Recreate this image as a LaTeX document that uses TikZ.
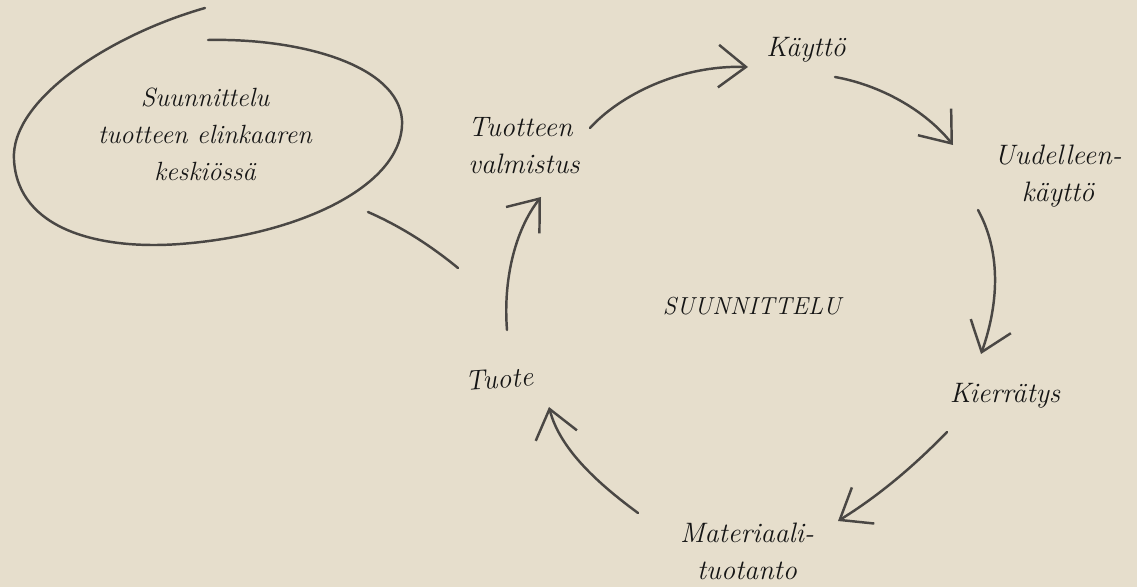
\documentclass[tikz,border=0pt]{standalone}
\usepackage{tikz}
\usetikzlibrary{arrows.meta,positioning}

\definecolor{paper}{HTML}{E6DECC}
\definecolor{pencil}{HTML}{4A4744}
\definecolor{ink}{HTML}{151515}

\tikzset{
  hand/.style={font=\fontsize{16}{21}\selectfont\itshape, text=ink, align=center, inner sep=1pt},
  arr/.style={draw=pencil, line width=1.4pt, line cap=round,
    -{Straight Barb[length=5.5mm,width=8.5mm,line width=1.4pt]}},
  pen/.style={draw=pencil, line width=1.4pt, line cap=round}
}

\begin{document}
\begin{tikzpicture}[x=0.02cm,y=-0.02cm]
\useasboundingbox[fill=paper] (0,0) rectangle (1137,587);

% labels of the cycle
\node[hand, align=left] (valm) at (524,146) {Tuotteen\\valmistus};
\node[hand] (kaytto) at (806,50) {Käyttö};
\node[hand] (uudel) at (1058,176) {Uudelleen-\\käyttö};
\node[hand] (kierr) at (1005,396) {Kierrätys};
\node[hand] (mater) at (747,551) {Materiaali-\\tuotanto};
\node[hand, rotate=4] (tuote) at (499,379) {Tuote};
\node[hand, font=\fontsize{14}{17}\selectfont\itshape] (keski) at (752,306) {SUUNNITTELU};
\node[hand, font=\fontsize{15}{21}\selectfont\itshape] (focus) at (205,134) {Suunnittelu\\tuotteen elinkaaren\\keskiössä};

% loose loop round the focus text
\draw[pen] (205,8) .. controls (110,35) and (10,100) .. (14,160)
  .. controls (18,230) and (100,250) .. (180,244)
  .. controls (300,235) and (405,185) .. (402,120)
  .. controls (398,65) and (300,38) .. (208,40);

% arrow ends
\coordinate (a1) at (590,128);  \coordinate (b1) at (748,67);
\coordinate (a2) at (835,77);   \coordinate (b2) at (953,145);
\coordinate (a3) at (978,210);  \coordinate (b3) at (981,354);
\coordinate (a4) at (947,432);  \coordinate (b4) at (838,521);
\coordinate (a5) at (638,513);  \coordinate (b5) at (549,407);
\coordinate (a6) at (507,330);  \coordinate (b6) at (541,197);
\coordinate (t1) at (368,212);  \coordinate (t2) at (458,268);

\draw[arr] (a1) .. controls (620,95) and (680,65) .. (b1);
\draw[arr] (a2) .. controls (880,85) and (925,110) .. (b2);
\draw[arr] (a3) .. controls (1000,250) and (1000,300) .. (b3);
\draw[arr] (a4) .. controls (915,465) and (880,495) .. (b4);
\draw[arr] (a5) .. controls (600,485) and (560,450) .. (b5);
\draw[arr] (a6) .. controls (503,280) and (515,230) .. (b6);
\draw[pen] (t1) .. controls (400,226) and (430,245) .. (t2);
\end{tikzpicture}
\end{document}
